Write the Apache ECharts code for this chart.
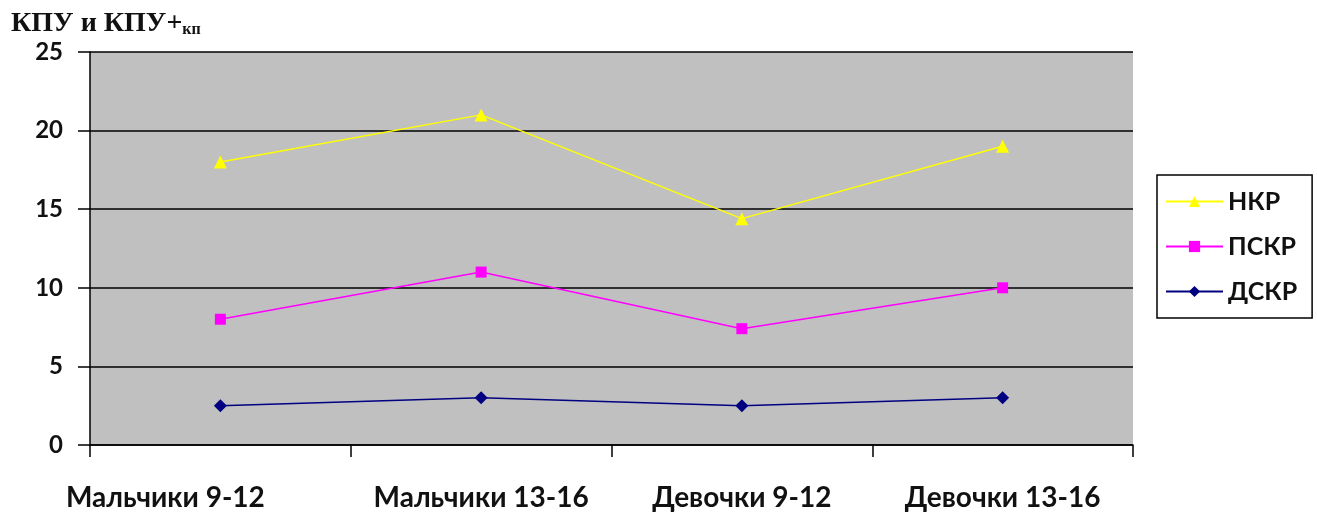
<!DOCTYPE html>
<html>
<head>
<meta charset="utf-8">
<script src="https://cdn.jsdelivr.net/npm/echarts@6/dist/echarts.min.js"></script>
<style>
  html, body { margin: 0; padding: 0; background: #ffffff; }
  #chart { width: 1317px; height: 515px; }
</style>
</head>
<body>
<div id="chart"></div>
<script>
// Age / sex groups along the horizontal axis
const categories = ['Мальчики 9-12', 'Мальчики 13-16', 'Девочки 9-12', 'Девочки 13-16'];

// Index values per group
const nkr  = [18, 21, 14.4, 19];
const pskr = [8, 11, 7.4, 10];
const dskr = [2.5, 3, 2.5, 3];

const seriesNames = ['НКР', 'ПСКР', 'ДСКР'];
const yTicks = [0, 5, 10, 15, 20, 25];

const sansBold = { fontFamily: 'Lato', fontWeight: 'bold', color: '#111' };

const chart = echarts.init(document.getElementById('chart'), null, { renderer: 'canvas' });

chart.setOption({
  backgroundColor: '#ffffff',
  animation: false,
  title: {
    text: '{a|КПУ и КПУ+}{b|кп}',
    left: 6,
    top: 5,
    textStyle: {
      rich: {
        a: { fontFamily: 'Liberation Serif', fontWeight: 'bold', fontSize: 28, color: '#111' },
        b: { fontFamily: 'Liberation Serif', fontWeight: 'bold', fontSize: 16, color: '#111', padding: [12, 0, 0, 0] }
      }
    }
  },
  grid: {
    left: 90, right: 184, top: 52, bottom: 70,
    show: true,
    backgroundColor: '#c0c0c0',
    borderWidth: 0
  },
  legend: {
    orient: 'vertical',
    left: 1157,
    top: 175,
    data: seriesNames,
    itemWidth: 57,
    itemHeight: 14,
    itemGap: 20,
    padding: [14, 15, 14, 8],
    borderColor: '#000',
    borderWidth: 1.5,
    textStyle: Object.assign({}, sansBold, { fontSize: 25 })
  },
  xAxis: {
    type: 'category',
    data: categories,
    boundaryGap: true,
    axisLine: { show: true, lineStyle: { color: '#000', width: 1.5 } },
    axisTick: { show: true, interval: 0, length: 12, lineStyle: { color: '#000', width: 1.5 } },
    axisLabel: Object.assign({}, sansBold, {
      fontSize: 28,
      margin: 39,
      interval: 0,
      hideOverlap: false,
      // the first group's caption sits to the left of its tick column
      formatter: function (v, i) { return i === 0 ? '{first|' + v + '}' : v; },
      rich: { first: Object.assign({}, sansBold, { fontSize: 28, padding: [0, 110, 0, 0] }) }
    }),
    splitLine: { show: false }
  },
  yAxis: {
    type: 'value',
    min: yTicks[0],
    max: yTicks[yTicks.length - 1],
    interval: yTicks[1] - yTicks[0],
    axisLine: { show: true, lineStyle: { color: '#000', width: 1.5 } },
    axisTick: { show: true, length: 12, lineStyle: { color: '#000', width: 1.5 } },
    axisLabel: Object.assign({}, sansBold, { fontSize: 24, margin: 27 }),
    splitLine: { show: true, lineStyle: { color: '#000', width: 1.5 } }
  },
  series: [
    {
      name: seriesNames[0], type: 'line', data: nkr,
      symbol: 'triangle', symbolSize: 13,
      itemStyle: { color: '#ffff00' },
      lineStyle: { color: '#ffff00', width: 1.5 }
    },
    {
      name: seriesNames[1], type: 'line', data: pskr,
      symbol: 'rect', symbolSize: 11,
      itemStyle: { color: '#ff00ff' },
      lineStyle: { color: '#ff00ff', width: 1.5 }
    },
    {
      name: seriesNames[2], type: 'line', data: dskr,
      symbol: 'diamond', symbolSize: 13,
      itemStyle: { color: '#000080' },
      lineStyle: { color: '#000080', width: 1.5 }
    }
  ]
});
</script>
</body>
</html>
